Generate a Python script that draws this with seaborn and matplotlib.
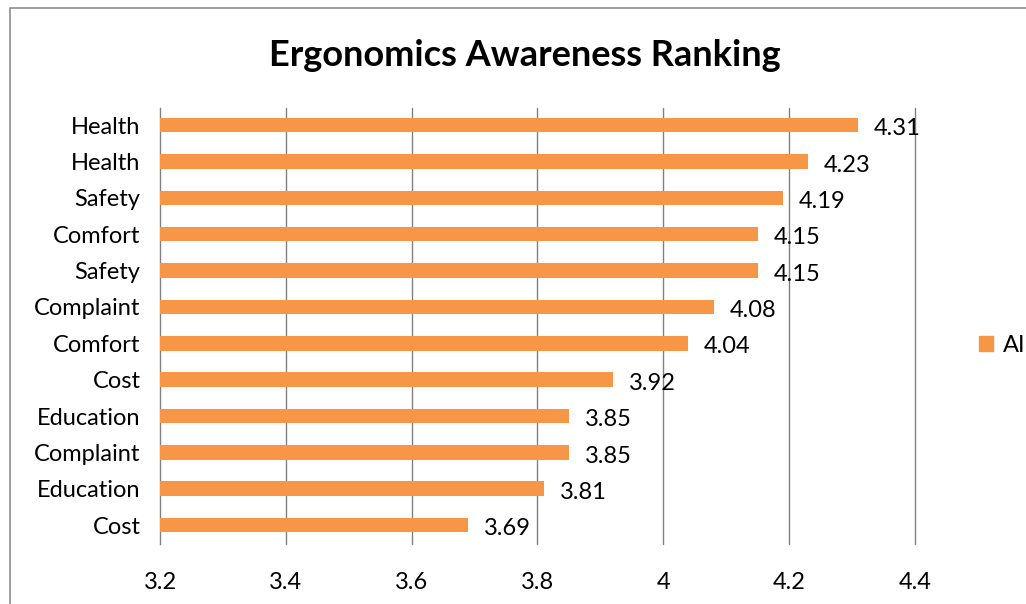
import matplotlib
matplotlib.use("Agg")
import matplotlib.pyplot as plt
import matplotlib.patches as mpatches
import seaborn as sns
import pandas as pd

# Ranked awareness scores, top to bottom
labels = ["Health", "Health", "Safety", "Comfort", "Safety", "Complaint",
          "Comfort", "Cost", "Education", "Complaint", "Education", "Cost"]
scores = [4.31, 4.23, 4.19, 4.15, 4.15, 4.08, 4.04, 3.92, 3.85, 3.85, 3.81, 3.69]
x_ticks = [3.2, 3.4, 3.6, 3.8, 4.0, 4.2, 4.4]
x_tick_labels = ["3.2", "3.4", "3.6", "3.8", "4", "4.2", "4.4"]
series_name = "AI"

bar_color = "#F79646"
grid_color = "#808080"

sns.set_theme(style="white")
plt.rcParams["font.family"] = ["Lato", "DejaVu Sans"]
plt.rcParams["text.color"] = "black"

df = pd.DataFrame({"rank": [str(i) for i in range(len(scores))],
                   "score": scores})

fig = plt.figure(figsize=(10.26, 6.04), dpi=100)
ax = fig.add_axes([160 / 1026, 1 - 544 / 604, (915 - 160) / 1026, (544 - 108) / 604])

sns.barplot(data=df, x="score", y="rank", order=df["rank"], orient="h",
            color=bar_color, saturation=1, width=0.4, ax=ax, zorder=3)

# Bars start at the left edge of the value axis
for patch, v in zip(ax.patches, scores):
    patch.set_x(x_ticks[0])
    patch.set_width(v - x_ticks[0])
    patch.set_edgecolor("none")

ax.set_xlim(x_ticks[0], x_ticks[-1])
ax.set_ylim(len(scores) - 0.48, -0.47)
ax.set_xticks(x_ticks)
ax.set_xticklabels(x_tick_labels, fontsize=17, color="black")
ax.set_yticks(range(len(labels)))
ax.set_yticklabels(labels, fontsize=17, color="black")
ax.tick_params(axis="x", length=0, pad=20)
ax.tick_params(axis="y", length=0, pad=14)
ax.set_xlabel("")
ax.set_ylabel("")

for x in x_ticks[1:]:
    ax.axvline(x, color=grid_color, lw=1, zorder=1, clip_on=False)

for s in ["top", "right", "bottom"]:
    ax.spines[s].set_visible(False)
ax.spines["left"].set_color(grid_color)
ax.spines["left"].set_linewidth(1)

for i, v in enumerate(scores):
    ax.text(v + 0.025, i + 0.1, f"{v:.2f}", va="center", ha="left",
            fontsize=17, color="black", zorder=4)

fig.text(525 / 1026, 1 - 55 / 604, "Ergonomics Awareness Ranking",
         ha="center", va="center", fontsize=26, fontweight="bold",
         color="black")

handle = mpatches.Patch(color=bar_color, label=series_name)
fig.legend(handles=[handle], loc="center left",
           bbox_to_anchor=(958 / 1026, 1 - 345 / 604), frameon=False,
           fontsize=17, handlelength=0.6, handleheight=0.6, handletextpad=0.4,
           labelcolor="black")

# Chart frame
fig.patches.append(mpatches.Rectangle((10 / 1026, -0.1), 1.2, 1 - 8 / 604 + 0.1,
                                      transform=fig.transFigure, fill=False,
                                      edgecolor="#8c8c8c", lw=1.2))

fig.savefig("out.png", dpi=100)
